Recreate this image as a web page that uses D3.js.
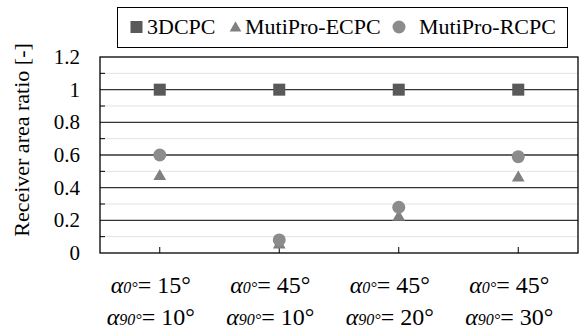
<!DOCTYPE html>
<html lang="en">
<head>
  <meta charset="utf-8">
  <title>Receiver area ratio</title>
  <script src="https://d3js.org/d3.v7.min.js"></script>
  <style>
    html, body { margin: 0; padding: 0; background: #fff; }
    svg { display: block; }
    svg text { font-family: 'Liberation Serif', 'Times New Roman', Times, serif; }
  </style>
</head>
<body>
  <svg id="chart" width="581" height="332"></svg>
  <script>
    // data
    const categories = ["c1", "c2", "c3", "c4"];
    const alpha0 = ["15°", "45°", "45°", "45°"];
    const alpha90 = ["10°", "10°", "20°", "30°"];
    const series = ["3DCPC", "MutiPro-ECPC", "MutiPro-RCPC"];
    const dcpc = [1, 1, 1, 1];
    const ecpc = [0.47, 0.05, 0.22, 0.46];
    const rcpc = [0.60, 0.08, 0.28, 0.59];
    const yTicks = [0, 0.2, 0.4, 0.6, 0.8, 1, 1.2];
    const yMinor = [0.1, 0.3, 0.5, 0.7, 0.9, 1.1];

    const svg = d3.select('#chart');
    const plot = { left: 100, right: 578, top: 57, bottom: 253 };

    const x = d3.scaleBand().domain(categories).range([plot.left, plot.right]);
    const y = d3.scaleLinear().domain([0, 1.2]).range([plot.bottom, plot.top]);
    const cx = c => x(c) + x.bandwidth() / 2;

    // minor gridlines
    svg.append('g').selectAll('line').data(yMinor).enter().append('line')
      .attr('x1', plot.left).attr('x2', plot.right)
      .attr('y1', d => y(d)).attr('y2', d => y(d))
      .attr('stroke', '#e3e3e3').attr('stroke-width', 1);
    // minor ticks on left axis
    svg.append('g').selectAll('line').data(yMinor).enter().append('line')
      .attr('x1', plot.left).attr('x2', plot.left + 5)
      .attr('y1', d => y(d)).attr('y2', d => y(d))
      .attr('stroke', '#000').attr('stroke-width', 1);
    // major gridlines
    svg.append('g').selectAll('line').data(yTicks.slice(1, -1)).enter().append('line')
      .attr('x1', plot.left).attr('x2', plot.right)
      .attr('y1', d => y(d)).attr('y2', d => y(d))
      .attr('stroke', '#333').attr('stroke-width', 1.3);

    // plot border
    svg.append('rect')
      .attr('x', plot.left).attr('y', plot.top)
      .attr('width', plot.right - plot.left).attr('height', plot.bottom - plot.top)
      .attr('fill', 'none').attr('stroke', '#000').attr('stroke-width', 1.3);

    // x ticks (inside, at category centres)
    svg.append('g').selectAll('line').data(categories).enter().append('line')
      .attr('x1', d => cx(d)).attr('x2', d => cx(d))
      .attr('y1', plot.bottom).attr('y2', plot.bottom - 6)
      .attr('stroke', '#000').attr('stroke-width', 1);

    // y tick labels
    svg.append('g').selectAll('text').data(yTicks).enter().append('text')
      .attr('x', 80).attr('y', d => y(d)).attr('dy', '0.34em')
      .attr('text-anchor', 'end').attr('font-size', 21).attr('fill', '#000')
      .text(d => d3.format('~g')(d));

    // y title
    svg.append('text')
      .attr('transform', `translate(29,${(plot.top + plot.bottom) / 2 - 15}) rotate(-90)`)
      .attr('text-anchor', 'middle').attr('font-size', 22).attr('fill', '#000')
      .text('Receiver area ratio [-]');

    // x labels, two lines
    function xLabel(sel, sub, vals, yy) {
      const t = sel.selectAll(null).data(categories).enter().append('text')
        .attr('x', d => cx(d) - 9).attr('y', yy)
        .attr('text-anchor', 'middle').attr('font-size', 24).attr('fill', '#000');
      t.append('tspan').attr('font-style', 'italic').text('α');
      t.append('tspan').attr('font-style', 'italic').attr('font-size', 16).text(sub);
      t.append('tspan').text((d, i) => '= ' + vals[i]);
    }
    const xl = svg.append('g');
    xLabel(xl, '0°', alpha0, 293);
    xLabel(xl, '90°', alpha90, 325);

    // markers
    const sq = 12;
    svg.append('g').selectAll('rect').data(dcpc).enter().append('rect')
      .attr('x', (d, i) => cx(categories[i]) - sq / 2)
      .attr('y', d => y(d) - sq / 2)
      .attr('width', sq).attr('height', sq).attr('fill', '#595959');

    const tri = d3.symbol().type(d3.symbolTriangle).size(70);
    svg.append('g').selectAll('path').data(ecpc).enter().append('path')
      .attr('transform', (d, i) => `translate(${cx(categories[i])},${y(d)})`)
      .attr('d', tri).attr('fill', '#808080');

    svg.append('g').selectAll('circle').data(rcpc).enter().append('circle')
      .attr('cx', (d, i) => cx(categories[i])).attr('cy', d => y(d))
      .attr('r', 6.5).attr('fill', '#8c8c8c');

    // legend
    const lg = svg.append('g');
    lg.append('rect').attr('x', 117.5).attr('y', 7.5).attr('width', 450).attr('height', 40)
      .attr('fill', '#fff').attr('stroke', '#000').attr('stroke-width', 1);
    const markX = [136.5, 235.5, 399];
    const textX = [147, 245, 419];
    const ly = 27;
    series.forEach((s, i) => {
      if (i === 0) {
        lg.append('rect').attr('x', markX[i] - 6).attr('y', ly - 6).attr('width', 12).attr('height', 12).attr('fill', '#595959');
      } else if (i === 1) {
        lg.append('path').attr('transform', `translate(${markX[i]},${ly + 1})`)
          .attr('d', d3.symbol().type(d3.symbolTriangle).size(60)).attr('fill', '#808080');
      } else {
        lg.append('circle').attr('cx', markX[i]).attr('cy', ly).attr('r', 6.5).attr('fill', '#8c8c8c');
      }
      lg.append('text').attr('x', textX[i]).attr('y', 33.5)
        .attr('font-size', 22).attr('fill', '#000').text(s);
    });
  </script>
</body>
</html>
